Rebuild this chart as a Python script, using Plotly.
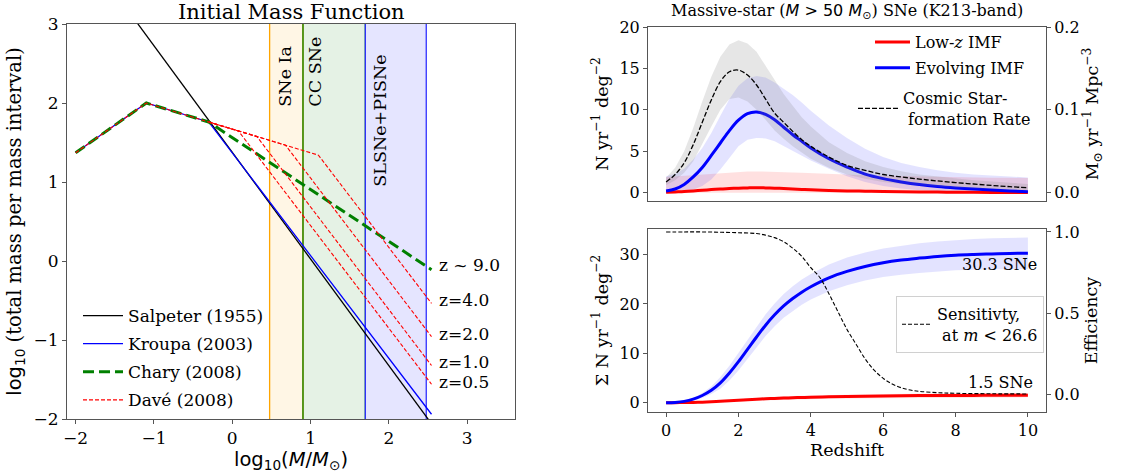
import plotly.graph_objects as go

W, H = 1139, 473

# ---------------- Left panel data (IMF vertices) ----------------
sal_x = [-2.0, 2.544]
sal_y = [4.075, -2.06]
kro_x = [-2.0, -1.097, -0.301, 2.544]
kro_y = [1.37, 2.0, 1.76, -1.94]
cha_x = [-2.0, -1.097, -0.301, 2.544]
cha_y = [1.37, 2.0, 1.76, -0.11]
dave_x = [
    [-2.0, -1.097, -0.301, 0.08, 2.544],
    [-0.301, 0.315, 2.544],
    [-0.301, 0.68, 2.544],
    [-0.301, 1.10, 2.544],
]
dave_y = [
    [1.37, 2.0, 1.76, 1.645, -1.56],
    [1.76, 1.575, -1.323],
    [1.76, 1.466, -0.957],
    [1.76, 1.34, -0.537],
]
z_labels = ["z ~ 9.0", "z=4.0", "z=2.0", "z=1.0", "z=0.5"]
z_label_y = [-0.05, -0.49, -0.92, -1.28, -1.53]

band_lo = [0.477, 0.903, 1.699]
band_hi = [0.903, 1.699, 2.477]
band_names = ["SNe Ia", "CC SNe", "SLSNe+PISNe"]
band_label_x = [0.68, 1.06, 1.89]
band_label_y = [2.34, 2.40, 1.78]
band_fill = ["rgba(255,165,0,0.1)", "rgba(0,128,0,0.1)", "rgba(0,0,255,0.1)"]
band_edge = ["#ffa500", "#008000", "#3030ff"]

# ---------------- Right panels data ----------------
z = [0, 0.25, 0.5, 0.75, 1.0, 1.25, 1.5, 1.75, 2.0, 2.25, 2.5, 2.75, 3.0, 3.25, 3.5,
     3.75, 4.0, 4.5, 5.0, 5.5, 6.0, 6.5, 7.0, 7.5, 8.0, 8.5, 9.0, 9.5, 10.0]

# rate per year per deg^2
evo_rate = [0.2, 0.45, 1.0, 1.9, 3.05, 4.5, 6.0, 7.5, 8.75, 9.55, 9.75, 9.45, 8.8, 7.9, 7.0,
            6.2, 5.4, 4.1, 3.1, 2.25, 1.7, 1.3, 0.98, 0.75, 0.58, 0.45, 0.33, 0.22, 0.12]
evo_hi = [2.0, 2.3, 2.9, 4.0, 5.4, 7.2, 9.3, 11.3, 12.9, 13.8, 14.1, 13.9, 13.3, 12.6, 11.8,
          10.9, 9.9, 8.1, 6.6, 5.3, 4.3, 3.6, 3.1, 2.7, 2.4, 2.2, 2.05, 1.95, 1.85]
evo_lo = [0.0, 0.05, 0.15, 0.35, 0.8, 1.6, 2.8, 4.2, 5.6, 6.4, 6.6, 6.55, 6.2, 5.7, 5.1,
          4.5, 3.9, 2.9, 2.0, 1.3, 0.8, 0.5, 0.3, 0.2, 0.12, 0.08, 0.05, 0.03, 0.02]
low_rate = [0.05, 0.1, 0.15, 0.22, 0.3, 0.38, 0.45, 0.5, 0.55, 0.58, 0.6, 0.58, 0.55, 0.5, 0.45,
            0.4, 0.35, 0.28, 0.22, 0.18, 0.14, 0.11, 0.09, 0.075, 0.06, 0.05, 0.04, 0.035, 0.03]
low_hi = [1.9, 1.98, 2.05, 2.12, 2.2, 2.28, 2.35, 2.42, 2.5, 2.55, 2.57, 2.56, 2.55, 2.5, 2.45,
          2.4, 2.35, 2.28, 2.2, 2.12, 2.05, 2.0, 1.95, 1.91, 1.88, 1.85, 1.82, 1.8, 1.78]
low_lo = [0.0] * 29

# cosmic SFR, Msun / yr / Mpc^3
sfr = [0.013, 0.022, 0.036, 0.058, 0.085, 0.112, 0.134, 0.146, 0.148, 0.142, 0.130, 0.113,
       0.096, 0.085, 0.074, 0.064, 0.056, 0.043, 0.033, 0.027, 0.022, 0.019, 0.0165, 0.0142,
       0.0122, 0.0105, 0.0088, 0.0073, 0.006]
sfr_hi = [0.018, 0.030, 0.050, 0.078, 0.110, 0.140, 0.164, 0.179, 0.184, 0.180, 0.170, 0.153,
          0.135, 0.119, 0.105, 0.091, 0.080, 0.061, 0.048, 0.038, 0.031, 0.026, 0.022, 0.0195,
          0.017, 0.015, 0.0135, 0.012, 0.0105]
sfr_lo = [0.009, 0.015, 0.024, 0.038, 0.058, 0.080, 0.100, 0.113, 0.115, 0.110, 0.100, 0.088,
          0.075, 0.065, 0.056, 0.048, 0.041, 0.030, 0.022, 0.017, 0.013, 0.0105, 0.0085, 0.0072,
          0.006, 0.005, 0.0042, 0.0036, 0.003]

# cumulative numbers
evo_cum = [0.0, 0.05, 0.25, 0.7, 1.45, 2.5, 4.0, 6.0, 8.3, 10.8, 13.3, 15.7, 17.8, 19.6, 21.1,
           22.4, 23.5, 25.3, 26.6, 27.6, 28.35, 28.9, 29.3, 29.65, 29.9, 30.05, 30.15, 30.25, 30.3]
evo_cum_hi = [0.0, 0.1, 0.35, 0.95, 1.95, 3.25, 5.2, 7.5, 10.1, 12.75, 15.4, 17.9, 20.1, 22.0, 23.6,
              24.95, 26.1, 28.0, 29.4, 30.45, 31.25, 31.85, 32.3, 32.65, 32.95, 33.15, 33.3, 33.4, 33.5]
evo_cum_lo = [0.0, 0.0, 0.15, 0.45, 0.95, 1.75, 2.8, 4.5, 6.5, 8.85, 11.2, 13.5, 15.5, 17.2, 18.6,
              19.85, 20.9, 22.6, 23.8, 24.75, 25.45, 25.95, 26.3, 26.65, 26.85, 26.95, 27.0, 27.1, 27.1]
low_cum = [0.0, 0.0, 0.02, 0.05, 0.1, 0.17, 0.26, 0.37, 0.48, 0.59, 0.69, 0.78, 0.86, 0.93, 0.99,
           1.04, 1.09, 1.17, 1.24, 1.3, 1.35, 1.39, 1.42, 1.44, 1.46, 1.47, 1.48, 1.49, 1.5]
low_cum_hi = [0.0, 0.02, 0.07, 0.13, 0.22, 0.33, 0.46, 0.6, 0.74, 0.87, 0.99, 1.1, 1.2, 1.28, 1.35,
              1.41, 1.47, 1.56, 1.64, 1.71, 1.77, 1.81, 1.85, 1.87, 1.9, 1.91, 1.92, 1.93, 1.94]
low_cum_lo = [0.0, 0.0, 0.0, 0.0, 0.02, 0.05, 0.1, 0.17, 0.25, 0.33, 0.41, 0.48, 0.54, 0.6, 0.65,
              0.69, 0.73, 0.79, 0.85, 0.9, 0.94, 0.97, 1.0, 1.02, 1.03, 1.04, 1.05, 1.06, 1.07]

z_eff = [0, 0.5, 1.0, 1.5, 2.0, 2.5, 2.75, 3.0, 3.25, 3.5, 3.75, 4.0, 4.25, 4.5, 4.75, 5.0,
         5.25, 5.5, 5.75, 6.0, 6.25, 6.5, 6.75, 7.0, 7.5, 8.0, 9.0, 10.0]
eff = [1.0, 1.0, 1.0, 0.998, 0.995, 0.99, 0.98, 0.965, 0.94, 0.9, 0.85, 0.78, 0.72, 0.62, 0.51,
       0.4, 0.31, 0.22, 0.15, 0.1, 0.065, 0.042, 0.028, 0.02, 0.012, 0.008, 0.005, 0.004]

total_labels = ["30.3 SNe", "1.5 SNe"]
total_label_x = [10.3, 10.2]
total_label_y = [28.0, 4.1]

# ---------------- figure ----------------
SERIF = "DejaVu Serif"
AX = "#555555"
fig = go.Figure()


def band(xs, hi, lo, color, xa, ya):
    fig.add_trace(go.Scatter(x=list(xs) + list(xs)[::-1], y=list(hi) + list(lo)[::-1],
                             fill="toself", fillcolor=color, line=dict(width=0),
                             mode="lines", showlegend=False, hoverinfo="skip",
                             xaxis=xa, yaxis=ya))


# Left panel
fig.add_trace(go.Scatter(x=sal_x, y=sal_y, mode="lines", name="Salpeter (1955)",
                         line=dict(color="black", width=1.3), xaxis="x", yaxis="y",
                         legend="legend", legendgroup="a"))
fig.add_trace(go.Scatter(x=kro_x, y=kro_y, mode="lines", name="Kroupa (2003)",
                         line=dict(color="blue", width=1.3), xaxis="x", yaxis="y",
                         legend="legend", legendgroup="b"))
fig.add_trace(go.Scatter(x=cha_x, y=cha_y, mode="lines", name="Chary (2008)",
                         line=dict(color="green", width=3, dash="11px,5px"), xaxis="x", yaxis="y",
                         legend="legend", legendgroup="c"))
for i in range(len(dave_x)):
    fig.add_trace(go.Scatter(x=dave_x[i], y=dave_y[i], mode="lines", name="Davé (2008)",
                             line=dict(color="red", width=1.1, dash="4px,2px"),
                             xaxis="x", yaxis="y", legend="legend", legendgroup="d",
                             showlegend=(i == 0)))

# Top right panel
band(z, low_hi, low_lo, "rgba(255,0,0,0.12)", "x2", "y2")
band(z, evo_hi, evo_lo, "rgba(0,0,255,0.11)", "x2", "y2")
fig.add_trace(go.Scatter(x=z, y=low_rate, mode="lines", name="Low-<i>z</i> IMF",
                         line=dict(color="red", width=3, shape="spline"), xaxis="x2", yaxis="y2",
                         legend="legend2", legendgroup="e"))
fig.add_trace(go.Scatter(x=z, y=evo_rate, mode="lines", name="Evolving IMF",
                         line=dict(color="blue", width=3, shape="spline"), xaxis="x2", yaxis="y2",
                         legend="legend2", legendgroup="f"))
band(z, sfr_hi, sfr_lo, "rgba(128,128,128,0.2)", "x2", "y3")
fig.add_trace(go.Scatter(x=z, y=sfr, mode="lines", name="Cosmic Star-<br>\u00a0formation Rate",
                         line=dict(color="black", width=1.3, dash="5px,2px", shape="spline"),
                         xaxis="x2", yaxis="y3", legend="legend3"))

# Bottom right panel
band(z, evo_cum_hi, evo_cum_lo, "rgba(0,0,255,0.11)", "x3", "y4")
band(z, low_cum_hi, low_cum_lo, "rgba(255,0,0,0.12)", "x3", "y4")
fig.add_trace(go.Scatter(x=z, y=low_cum, mode="lines", showlegend=False,
                         line=dict(color="red", width=3, shape="spline"), xaxis="x3", yaxis="y4"))
fig.add_trace(go.Scatter(x=z, y=evo_cum, mode="lines", showlegend=False,
                         line=dict(color="blue", width=3, shape="spline"), xaxis="x3", yaxis="y4"))
fig.add_trace(go.Scatter(x=z_eff, y=eff, mode="lines",
                         name="Sensitivty,<br>\u00a0at <i>m</i> &lt; 26.6",
                         line=dict(color="black", width=1.1, dash="4px,2px", shape="spline"),
                         xaxis="x3", yaxis="y5", legend="legend4"))

# shapes for mass bands
shapes = []
for lo, hi, fc in zip(band_lo, band_hi, band_fill):
    shapes.append(dict(type="rect", xref="x", yref="y domain", x0=lo, x1=hi, y0=0, y1=1,
                       fillcolor=fc, line=dict(width=0), layer="below"))
for lo, hi, ec in zip(band_lo, band_hi, band_edge):
    for xv in (lo, hi):
        shapes.append(dict(type="line", xref="x", yref="y domain", x0=xv, x1=xv, y0=0, y1=1,
                           line=dict(color=ec, width=1.3), layer="below"))

annotations = []
for t, yv in zip(z_labels, z_label_y):
    annotations.append(dict(text=t, x=2.62, y=yv, xref="x", yref="y", xanchor="left",
                            yanchor="middle", showarrow=False,
                            font=dict(family=SERIF, size=17, color="black")))
for t, xv, yv in zip(band_names, band_label_x, band_label_y):
    annotations.append(dict(text=t, x=xv, y=yv, xref="x", yref="y", textangle=-90,
                            showarrow=False, font=dict(family=SERIF, size=17.5, color="black")))
for t, xv, yv in zip(total_labels, total_label_x, total_label_y):
    annotations.append(dict(text=t, x=xv, y=yv, xref="x3", yref="y4", xanchor="right",
                            yanchor="middle", showarrow=False,
                            font=dict(family=SERIF, size=16, color="black")))
annotations.append(dict(text="Initial Mass Function", x=291 / W, y=1 - 12 / H, xref="paper",
                        yref="paper", showarrow=False, xanchor="center", yanchor="middle",
                        font=dict(family=SERIF, size=21, color="black")))
annotations.append(dict(text="Massive-star (<span style=\"font-family:DejaVu Sans\"><i>M</i> &gt; 50 <i>M</i><sub>⊙</sub></span>) SNe (K213-band)",
                        x=847 / W, y=1 - 11 / H, xref="paper", yref="paper", showarrow=False,
                        xanchor="center", yanchor="middle",
                        font=dict(family=SERIF, size=16, color="black")))

tick_l = dict(family=SERIF, size=17, color="black")
tick_r = dict(family=SERIF, size=16, color="black")
title_l = dict(family=SERIF, size=19.5, color="black")
title_r = dict(family=SERIF, size=17.5, color="black")
base = dict(showline=True, linecolor=AX, linewidth=1, ticks="outside", ticklen=4,
            tickcolor=AX, showgrid=False, zeroline=False)

xr = [-0.5, 10.5]
fig.update_layout(
    width=W, height=H, margin=dict(l=0, r=0, t=0, b=0, autoexpand=False),
    paper_bgcolor="white", plot_bgcolor="rgba(0,0,0,0)",
    font=dict(family=SERIF, color="black"),
    shapes=shapes, annotations=annotations,
    xaxis=dict(domain=[67 / W, 515 / W], range=[-2.11, 3.61], tickvals=[-2, -1, 0, 1, 2, 3],
               mirror=True, anchor="y", tickfont=tick_l,
               title=dict(text="<span style=\"font-family:DejaVu Sans\">log<sub>10</sub>(<i>M</i>/<i>M</i><sub>⊙</sub>)</span>",
                          font=title_l, standoff=2), **base),
    yaxis=dict(domain=[1 - 419 / H, 1 - 24 / H], range=[-2, 3], tickvals=[-2, -1, 0, 1, 2, 3],
               mirror=True, anchor="x", tickfont=tick_l,
               title=dict(text="<span style=\"font-family:DejaVu Sans\">log<sub>10</sub></span> (total mass per mass interval)",
                          font=title_l, standoff=6), **base),
    xaxis2=dict(domain=[648 / W, 1046 / W], range=xr, anchor="y2", mirror=True,
                showline=True, linecolor=AX, ticks="", showticklabels=False,
                showgrid=False, zeroline=False),
    yaxis2=dict(domain=[1 - 201 / H, 1 - 27 / H], range=[-1, 20], tickvals=[0, 5, 10, 15, 20],
                anchor="x2", mirror=True, tickfont=tick_r,
                title=dict(text="N yr<sup>−1</sup> deg<sup>−2</sup>", font=title_r, standoff=6),
                **base),
    yaxis3=dict(range=[-0.01, 0.2], tickvals=[0.0, 0.1, 0.2], ticktext=["0.0", "0.1", "0.2"],
                overlaying="y2", side="right", anchor="x2", tickfont=tick_r,
                title=dict(text="M<sub>⊙</sub> yr<sup>−1</sup> Mpc<sup>−3</sup>", font=title_r,
                           standoff=6), **base),
    xaxis3=dict(domain=[648 / W, 1046 / W], range=xr, tickvals=[0, 2, 4, 6, 8, 10], anchor="y4",
                mirror=True, tickfont=tick_r,
                title=dict(text="Redshift", font=title_r, standoff=1), **base),
    yaxis4=dict(domain=[1 - 412 / H, 1 - 229 / H], range=[-1.9, 35.2], tickvals=[0, 10, 20, 30],
                anchor="x3", mirror=True, tickfont=tick_r,
                title=dict(text="Σ N yr<sup>−1</sup> deg<sup>−2</sup>", font=title_r, standoff=6),
                **base),
    yaxis5=dict(range=[-0.107, 1.018], tickvals=[0.0, 0.5, 1.0], ticktext=["0.0", "0.5", "1.0"],
                overlaying="y4", side="right", anchor="x3", tickfont=tick_r,
                title=dict(text="Efficiency", font=title_r, standoff=6), **base),
    legend=dict(x=78 / W, y=1 - 298 / H, xanchor="left", yanchor="top", bgcolor="rgba(0,0,0,0)",
                font=dict(family=SERIF, size=17, color="black"), itemwidth=40,
                traceorder="grouped", tracegroupgap=3),
    legend2=dict(x=870 / W, y=1 - 25 / H, xanchor="left", yanchor="top", bgcolor="rgba(0,0,0,0)",
                 font=dict(family=SERIF, size=16, color="black"), itemwidth=35,
                 traceorder="grouped", tracegroupgap=2),
    legend3=dict(x=853 / W, y=1 - 81 / H, xanchor="left", yanchor="top", bgcolor="rgba(0,0,0,0)",
                 font=dict(family=SERIF, size=16, color="black"), itemwidth=40),
    legend4=dict(x=896 / W, y=1 - 296 / H, xanchor="left", yanchor="top",
                 bgcolor="rgba(255,255,255,0.8)", bordercolor="#d0d0d0", borderwidth=1,
                 font=dict(family=SERIF, size=16, color="black"), itemwidth=30),
)

fig.write_html("out.html", config={"displayModeBar": False},
               post_script="document.body.style.margin='0';document.body.style.overflow='hidden';")
